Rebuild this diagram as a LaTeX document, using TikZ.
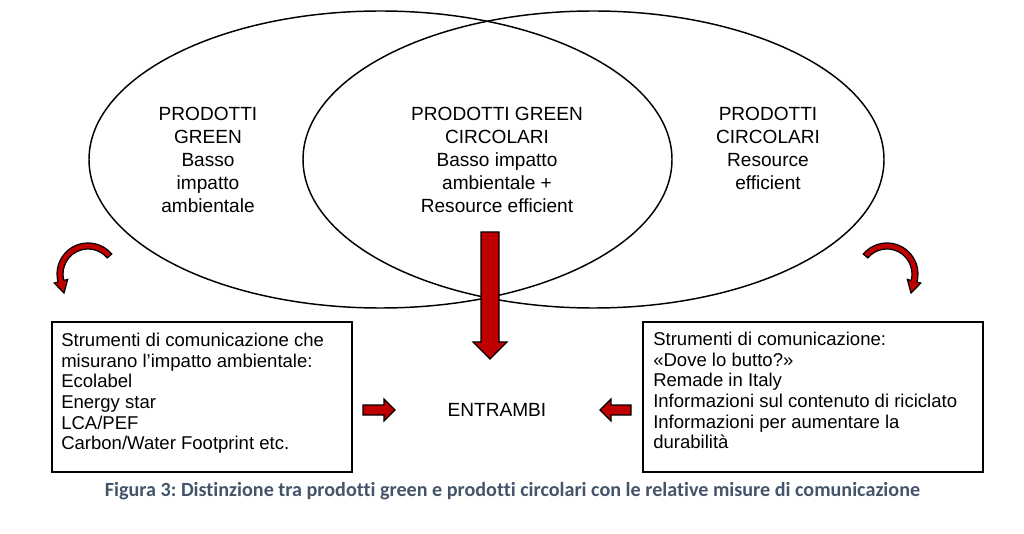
\documentclass[tikz,border=0pt]{standalone}
\usepackage{fontspec}
\setmainfont{Liberation Sans}
\newfontfamily\capfont[Ligatures=NoCommon]{Carlito}
\frenchspacing
\definecolor{arrowred}{RGB}{192,0,0}
\definecolor{captioncol}{RGB}{68,84,106}
\tikzset{
  venn/.style={draw=black, line width=1.1pt},
  maintext/.style={align=center, inner sep=0pt, font=\fontsize{14.3}{17.25}\selectfont},
  boxtext/.style={align=left, inner sep=0pt, anchor=west, font=\fontsize{13.9}{15.5}\selectfont},
  infobox/.style={draw=black, line width=1.1pt, inner sep=0pt},
  redarrow/.style={fill=arrowred, draw=black, line width=0.9pt, line join=miter},
}
\begin{document}
\begin{tikzpicture}[x=0.75pt,y=-0.75pt]
\useasboundingbox (0,0) rectangle (1024,534);
% ellipses
\draw[venn] (380.5,159.5) ellipse [x radius=291.5, y radius=148.5];
\draw[venn] (593.5,159.5) ellipse [x radius=290.5, y radius=148.5];
% ellipse texts
\node[maintext] (green) at (208,159.5) {PRODOTTI\\GREEN\\Basso\\impatto\\ambientale};
\node[maintext] (both) at (497,159.5) {PRODOTTI GREEN\\CIRCOLARI\\Basso impatto\\ambientale +\\Resource efficient};
\node[maintext] (circ) at (768,148) {PRODOTTI\\CIRCOLARI\\Resource\\efficient};
% big arrow
\draw[redarrow] (481,232) -- (499,232) -- (499,342) -- (507,342) -- (490,359) -- (473,342) -- (481,342) -- cycle;
% curved arrows
\begin{scope}[shift={(88,274)}]
\draw[redarrow] (-40:31) arc[start angle=-40, end angle=-195, radius=31] -- (-195:35) -- (-24,19) -- (-195:21) -- (-195:25) arc[start angle=-195, end angle=-40, radius=25] -- cycle;
\end{scope}
\begin{scope}[shift={(887,274)}, xscale=-1]
\draw[redarrow] (-40:31) arc[start angle=-40, end angle=-195, radius=31] -- (-195:35) -- (-24,19) -- (-195:21) -- (-195:25) arc[start angle=-195, end angle=-40, radius=25] -- cycle;
\end{scope}
% boxes
\node[infobox, minimum width=225pt, minimum height=112.5pt] (lbox) at (202,397) {};
\node[boxtext] (ltext) at (61,393.5) {Strumenti di comunicazione che\\misurano l’impatto ambientale:\\Ecolabel\\Energy star\\LCA/PEF\\Carbon/Water Footprint etc.};
\node[infobox, minimum width=255pt, minimum height=112.5pt] (rbox) at (813,397) {};
\node[boxtext] (rtext) at (653,390.5) {Strumenti di comunicazione:\\«Dove lo butto?»\\Remade in Italy\\Informazioni sul contenuto di riciclato\\Informazioni per aumentare la\\durabilità};
% entrambi
\node[maintext] (entrambi) at (497,410) {ENTRAMBI};
% small arrows
\draw[redarrow] (363,405) -- (384,405) -- (384,399) -- (395,410) -- (384,421) -- (384,415) -- (363,415) -- cycle;
\draw[redarrow] (631,405) -- (611,405) -- (611,399) -- (600,410) -- (611,421) -- (611,415) -- (631,415) -- cycle;
% caption
\node[inner sep=0pt, text=captioncol, font=\capfont\bfseries\fontsize{15.1}{18}\selectfont] (caption) at (512.5,491) {Figura 3: Distinzione tra prodotti green e prodotti circolari con le relative misure di comunicazione};
\end{tikzpicture}
\end{document}
